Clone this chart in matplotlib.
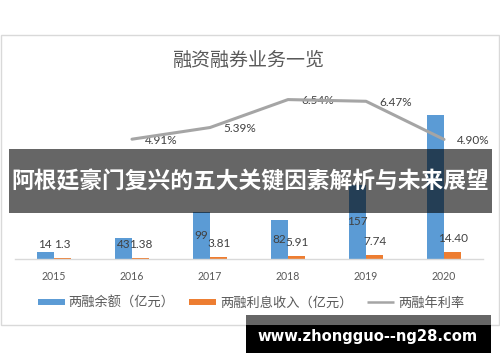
import numpy as np
import matplotlib
matplotlib.use("Agg")
import matplotlib.pyplot as plt
from matplotlib.patches import Rectangle
from matplotlib.lines import Line2D

plt.rcParams['font.family'] = ['Noto Sans CJK SC', 'DejaVu Sans']

years = ['2015', '2016', '2017', '2018', '2019', '2020']
balance = [14, 43, 99, 82, 157, 308]          # 两融余额（亿元）
interest = [1.3, 1.38, 3.81, 5.91, 7.74, 14.40]  # 两融利息收入（亿元）
interest_labels = ['1.3', '1.38', '3.81', '5.91', '7.74', '14.40']
rate = [np.nan, 4.91, 5.39, 6.54, 6.47, 4.90]    # 两融年利率 (%)

title = '融资融券业务一览'
legend_names = ['两融余额（亿元）', '两融利息收入（亿元）', '两融年利率']
banner_text = '阿根廷豪门复兴的五大关键因素解析与未来展望'
watermark = 'www.zhongguo--ng28.com'

BLUE = '#5B9BD5'
ORANGE = '#ED7D31'
GRAY = '#A5A5A5'
TXT = '#404040'
AX = '#595959'

W, H = 500, 362
fig = plt.figure(figsize=(5, 3.62), dpi=100)
fig.patch.set_facecolor('white')

def fx(px):
    return px / W

def fy(py):
    return 1 - py / H

# chart frame
fig.add_artist(Rectangle((fx(1), fy(325)), fx(498), (325 - 35) / H,
                         transform=fig.transFigure, fill=False,
                         edgecolor='#D9D9D9', linewidth=1.0, zorder=0))

ax = fig.add_axes([fx(15), fy(258.5), fx(468), 173.5 / H])
x = np.arange(len(years))
bw = 0.224
ax.bar(x - bw / 2, balance, width=bw, color=BLUE, zorder=2)
ax.bar(x + bw / 2, interest, width=bw, color=ORANGE, zorder=2)
ax.set_xlim(-0.5, len(years) - 0.5)
ymax = 173.5 / 0.466
ax.set_ylim(0, ymax)
ax.set_yticks([])
for s in ['top', 'left', 'right']:
    ax.spines[s].set_visible(False)
ax.spines['bottom'].set_color('#D9D9D9')
ax.spines['bottom'].set_linewidth(1.0)
ax.set_xticks(x)
ax.set_xticklabels(years, fontsize=7.6, color=AX, family=['Lato', 'DejaVu Sans'])
ax.tick_params(axis='x', length=0, pad=9)
ax.patch.set_alpha(0)

# data labels for bars
min_lab = 29
for i in range(len(years) - 1):
    ax.text(x[i] - bw / 2, max(balance[i] / 2, min_lab), str(balance[i]),
            ha='center', va='center', fontsize=8.5, color=TXT,
            family=['Lato', 'DejaVu Sans'], zorder=3)
for i in range(len(years)):
    ax.annotate(interest_labels[i], (x[i] + bw / 2, interest[i]),
                xytext=(0, 9.6), textcoords='offset points',
                ha='center', va='center', fontsize=8.5, color=TXT,
                family=['Lato', 'DejaVu Sans'], zorder=3)

ax2 = ax.twinx()
ax2.set_ylim(0, 173.5 / 24.3)
ax2.plot(x, rate, color=GRAY, linewidth=2.2, zorder=4, solid_capstyle='round')
for s in ax2.spines.values():
    s.set_visible(False)
ax2.set_yticks([])
for i in range(len(years)):
    if not np.isnan(rate[i]):
        ax2.annotate(f'{rate[i]:.2f}%', (x[i], rate[i]), xytext=(9.5, -0.8),
                     textcoords='offset points', ha='left', va='center',
                     fontsize=8.5, color=TXT, family=['Lato', 'DejaVu Sans'])

# title
fig.text(fx(249), fy(60), title, ha='center', va='center', fontsize=13.7,
         color=AX)

# legend
handles = [Line2D([0], [0], color=BLUE, lw=4.3, solid_capstyle='butt'),
           Line2D([0], [0], color=ORANGE, lw=4.3, solid_capstyle='butt'),
           Line2D([0], [0], color=GRAY, lw=1.8, solid_capstyle='butt')]
leg = fig.legend(handles, legend_names, loc='center',
                 bbox_to_anchor=(fx(251), fy(303)), ncol=3, frameon=False,
                 fontsize=9.5, handlelength=2.05, handletextpad=0.3,
                 columnspacing=1.1, labelcolor=AX)

# banner overlay
fig.add_artist(Rectangle((fx(9), fy(213)), fx(483), 64 / H,
                         transform=fig.transFigure, facecolor='black',
                         alpha=0.6, edgecolor='none', zorder=10))
fig.text(fx(250.5), fy(182), banner_text, ha='center', va='center',
         fontsize=16.4, fontweight='bold', color='white', zorder=11)

# watermark box
fig.add_artist(Rectangle((fx(246), fy(325)), fx(245), 10 / H,
                         transform=fig.transFigure, facecolor='#666666',
                         edgecolor='none', zorder=10))
fig.add_artist(Rectangle((fx(246), fy(353)), fx(245), 28 / H,
                         transform=fig.transFigure, facecolor='black',
                         edgecolor='none', zorder=10))
fig.text(fx(368), fy(337), watermark, ha='center', va='center',
         fontsize=10.6, fontweight='bold', color='white',
         family=['DejaVu Sans'], zorder=11)

fig.savefig('out.png', dpi=100, facecolor='white')
